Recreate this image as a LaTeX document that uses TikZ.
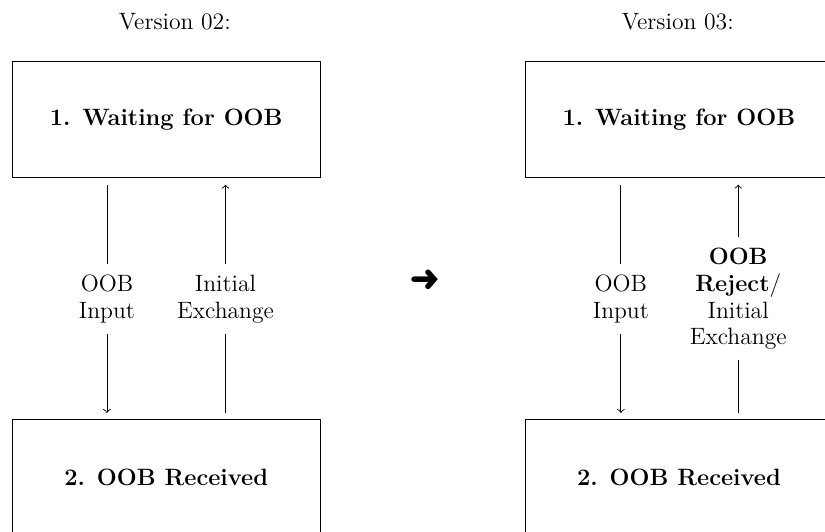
\documentclass[tikz,border=0pt]{standalone}
\usepackage{pifont}
\tikzset{>=to}
\tikzset{state/.style={draw, minimum width=5.04cm, minimum height=1.9cm, font=\fontsize{11}{12.5}\selectfont\bfseries},
         trans/.style={fill=white, align=center, inner sep=5pt},
         link/.style={->, shorten <=3pt, shorten >=3pt}}

\begin{document}
\begin{tikzpicture}[font=\fontsize{11}{12.5}\selectfont]
    \useasboundingbox (0,0) rectangle (13.5,8.7);
    % headings
    \node (verA) at (2.86,8.34) {Version 02:};
    \node (verB) at (11.09,8.34) {Version 03:};
    % states, version 02
    \node[state] (waitA) at (2.72,6.74) {1. Waiting for OOB};
    \node[state] (recvA) at (2.72,0.88) {2. OOB Received};
    % states, version 03
    \node[state] (waitB) at (11.11,6.74) {1. Waiting for OOB};
    \node[state] (recvB) at (11.11,0.88) {2. OOB Received};
    % transitions
    \draw[link] ([xshift=-0.97cm]waitA.south) -- node[trans] {OOB\\Input} ([xshift=-0.97cm]recvA.north);
    \draw[link] ([xshift=0.97cm]recvA.north) -- node[trans] {Initial\\Exchange} ([xshift=0.97cm]waitA.south);
    \draw[link] ([xshift=-0.95cm]waitB.south) -- node[trans] {OOB\\Input} ([xshift=-0.95cm]recvB.north);
    \draw[link] ([xshift=0.97cm]recvB.north) -- node[trans] {\textbf{OOB}\\\textbf{Reject}/\\Initial\\Exchange} ([xshift=0.97cm]waitB.south);
    % from 02 to 03
    \node (step) at (6.95,4.12) {\Large\ding{220}};
\end{tikzpicture}
\end{document}
